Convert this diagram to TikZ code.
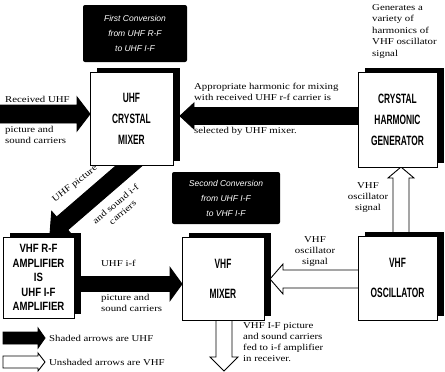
\documentclass[tikz,border=0pt]{standalone}
\usepackage{fontspec}
\setmainfont{Liberation Serif}
\newfontfamily\boxfont[FakeStretch=0.62]{Liberation Sans}
\newfontfamily\ampfont[FakeStretch=0.8]{Liberation Sans}
\newfontfamily\convfont{Liberation Sans}
\newfontfamily\lblfont[FakeStretch=1.2]{Liberation Serif}
\usetikzlibrary{calc,shadows}

\newcommand\fatarrow[6][]{% options, from, to, shaft half, head half, head length
  \draw[arrowline,#1] let \p1=(#2), \p2=(#3),
      \n1={atan2(\y2-\y1,\x2-\x1)},
      \n2={veclen(\x2-\x1,\y2-\y1)-#6} in
    ($(\p1)+(\n1+90:#4)$) -- ($(\p1)+(\n1:\n2)+(\n1+90:#4)$) --
    ($(\p1)+(\n1:\n2)+(\n1+90:#5)$) -- (\p2) --
    ($(\p1)+(\n1:\n2)+(\n1-90:#5)$) -- ($(\p1)+(\n1:\n2)+(\n1-90:#4)$) --
    ($(\p1)+(\n1-90:#4)$) -- cycle;
}

\tikzset{
  arrowline/.style={draw=black, line width=0.9pt, line join=miter},
  uhfarrow/.style={fill=black},
  vhfarrow/.style={fill=white},
  blockbox/.style={draw=black, line width=1pt, fill=white, align=center,
    inner sep=0pt,
    font=\boxfont\bfseries\fontsize{13.5}{21}\selectfont,
    general shadow={fill=black, shadow xshift=7pt, shadow yshift=4pt}},
  convbox/.style={fill=black, rounded corners=2pt, text=white, align=center,
    inner sep=0pt, font=\convfont\itshape\fontsize{8.5}{15}\selectfont},
  lbl/.style={inner sep=0pt, align=left, font=\lblfont\fontsize{9}{11}\selectfont},
}

\begin{document}
\begin{tikzpicture}[x=1pt,y=-1pt]
\useasboundingbox (0,0) rectangle (445,372);

% coordinates for connector ends
\coordinate (rxin) at (0,114);
\coordinate (rxtip) at (90,114);
\coordinate (harmfrom) at (360,116);
\coordinate (harmtip) at (180,116);
\coordinate (diagfrom) at (138,158);
\coordinate (diagtip) at (50,234);
\coordinate (ampfrom) at (72,284);
\coordinate (amptip) at (182,284);
\coordinate (oscupfrom) at (401,236);
\coordinate (oscuptip) at (401,167);
\coordinate (oscleftfrom) at (360,279);
\coordinate (osclefttip) at (270,279);
\coordinate (outfrom) at (224,318);
\coordinate (outtip) at (224,371);
\coordinate (leg1a) at (3,338);
\coordinate (leg1b) at (45,338);
\coordinate (leg2a) at (3,362);
\coordinate (leg2b) at (45,362);

% arrows
\fatarrow[uhfarrow]{rxin}{rxtip}{9pt}{17pt}{13pt}
\fatarrow[uhfarrow]{harmfrom}{harmtip}{8.5pt}{13pt}{14pt}
\fatarrow[uhfarrow]{diagfrom}{diagtip}{8.5pt}{16pt}{16pt}
\fatarrow[uhfarrow]{ampfrom}{amptip}{7.5pt}{16.5pt}{12pt}
\fatarrow[vhfarrow]{oscupfrom}{oscuptip}{8pt}{13pt}{11pt}
\fatarrow[vhfarrow]{oscleftfrom}{osclefttip}{9pt}{15pt}{13pt}
\fatarrow[vhfarrow]{outfrom}{outtip}{8pt}{14pt}{14pt}
\fatarrow[uhfarrow]{leg1a}{leg1b}{6pt}{10pt}{7pt}
\fatarrow[vhfarrow]{leg2a}{leg2b}{6pt}{9pt}{7pt}

% boxes
\node[blockbox, minimum width=83pt, minimum height=93pt] (umix) at (131.5,118.5) {UHF\\CRYSTAL\\MIXER};
\node[blockbox, minimum width=79pt, minimum height=95pt] (chg) at (397.5,119.5) {CRYSTAL\\HARMONIC\\GENERATOR};
\node[blockbox, minimum width=71pt, minimum height=81pt,
      font=\ampfont\bfseries\fontsize{12}{14.5}\selectfont] (vrf) at (38.5,277.5)
      {VHF R-F\\AMPLIFIER\\IS\\UHF I-F\\AMPLIFIER};
\node[blockbox, minimum width=82pt, minimum height=83pt,
      font=\boxfont\bfseries\fontsize{13.5}{30}\selectfont] (vmix) at (223,278.5) {VHF\\MIXER};
\node[blockbox, minimum width=79pt, minimum height=84pt,
      font=\boxfont\bfseries\fontsize{13.5}{30}\selectfont] (vosc) at (397.5,278) {VHF\\OSCILLATOR};

\node[convbox, minimum width=104pt, minimum height=57pt] (conv1) at (135,33.5)
  {First Conversion\\from UHF R-F\\to UHF I-F};
\node[convbox, minimum width=108pt, minimum height=52pt] (conv2) at (226,198)
  {Second Conversion\\from UHF I-F\\to VHF I-F};

% labels
\node[lbl, anchor=west] (trx1) at (5,99) {Received UHF};
\node[lbl, anchor=north west] (trx2) at (5,126) {picture and\\sound carriers};
\node[lbl, anchor=south west] (tharm1) at (194,101) {Appropriate harmonic for mixing\\with received UHF r-f carrier is};
\node[lbl, anchor=west] (tharm2) at (194,131) {selected by UHF mixer.};
\node[lbl, anchor=north west, font=\lblfont\fontsize{9}{11.5}\selectfont] (tgen) at (372,4)
  {Generates a\\variety of\\harmonics of\\VHF oscillator\\signal};
\node[lbl, rotate=38] (tdiag1) at (75,184) {UHF picture};
\node[lbl, rotate=40, align=center] (tdiag2) at (119,208) {and sound i-f\\carriers};
\node[lbl, anchor=west] (tamp1) at (101,263) {UHF i-f};
\node[lbl, anchor=north west] (tamp2) at (101,294) {picture and\\sound carriers};
\node[lbl, align=center] (tosc1) at (368,198) {VHF\\oscillator\\signal};
\node[lbl, align=center] (tosc2) at (315,252) {VHF\\oscillator\\signal};
\node[lbl, anchor=north west] (tout) at (243,322)
  {VHF I-F picture\\and sound carriers\\fed to i-f amplifier\\in receiver.};
\node[lbl, anchor=west] (tleg1) at (49,338) {Shaded arrows are UHF};
\node[lbl, anchor=west] (tleg2) at (49,362) {Unshaded arrows are VHF};
\end{tikzpicture}
\end{document}
